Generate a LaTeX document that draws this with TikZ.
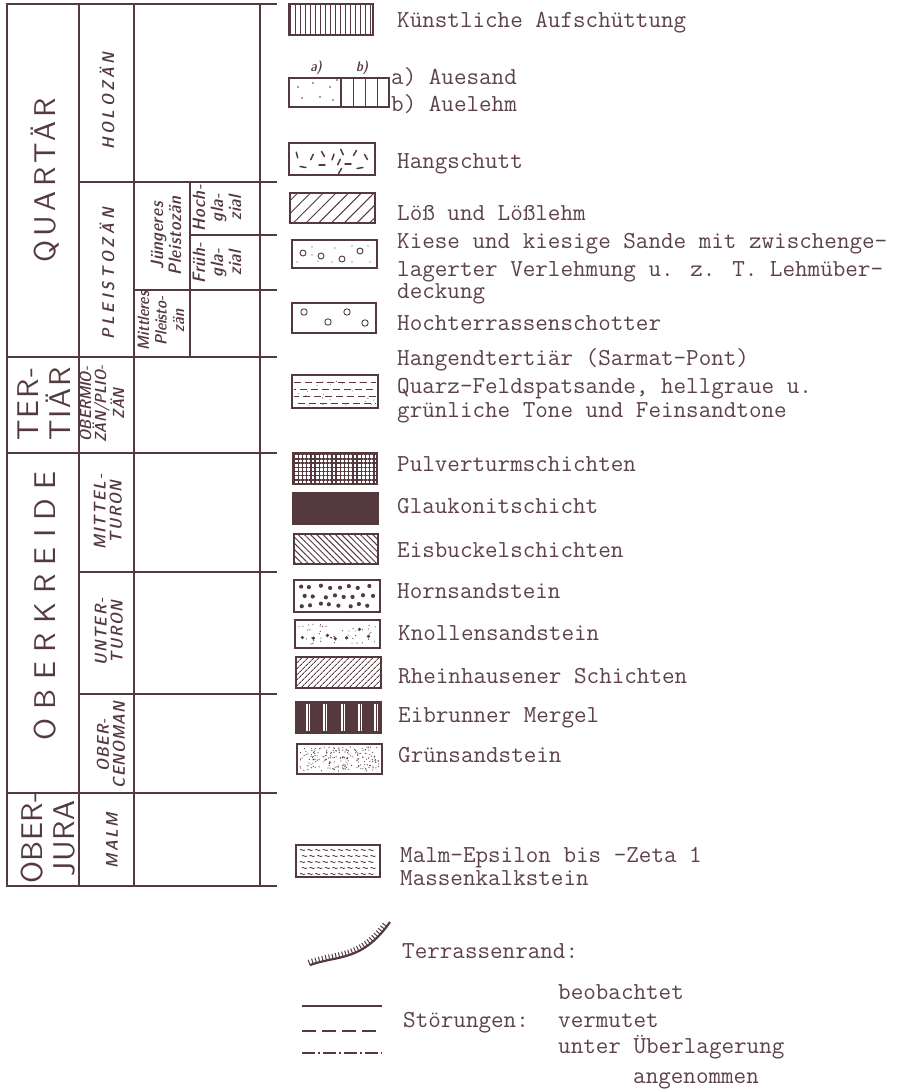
\documentclass[tikz,border=0pt]{standalone}
\usepackage{fontspec}
\newfontfamily\stencil{lmsans10-regular.otf}[
  ItalicFont=lmsans10-oblique.otf,
  BoldFont=lmsansdemicond10-regular.otf,
  BoldItalicFont=lmsansdemicond10-oblique.otf]
\usetikzlibrary{patterns.meta,decorations.pathreplacing,positioning}
\definecolor{ink}{RGB}{84,58,62}
\definecolor{inktxt}{RGB}{92,66,70}
\newcommand\sperr[1]{\addfontfeatures{LetterSpace=#1}}
\tikzset{
  gitter/.style={draw=ink,line width=1.5pt,line cap=rect},
  kasten/.style={draw=ink,line width=1.6pt},
  legtxt/.style={anchor=base west,inner sep=0pt,text=inktxt,
    font=\fontsize{24.4}{28}\ttfamily},
  system/.style={rotate=90,inner sep=0pt,text=ink,align=center,
    font=\fontsize{30}{32}\stencil\sperr{#1}},
  system/.default=8,
  serie/.style={rotate=90,inner sep=0pt,text=ink,align=center,
    font=\fontsize{17}{16}\stencil\bfseries\itshape\sperr{#1}},
  serie/.default=10,
  stufe/.style={rotate=90,inner sep=0pt,text=ink,align=center,
    font=\fontsize{18}{18}\stencil\bfseries\itshape\sperr{#1}},
  stufe/.default=4
}

\begin{document}
\begin{tikzpicture}[x=1pt,y=-1pt]
\useasboundingbox (0,0) rectangle (902,1089);
% Zeittabelle
\draw[gitter] (7,4) -- (7,886) (79,4) -- (79,886) (134,4) -- (134,886)
  (260,4) -- (260,886) (190,182) -- (190,357);
\foreach \y in {4,357,453,793,886} \draw[gitter] (7,\y) -- (276,\y);
\foreach \y in {182,572,694} \draw[gitter] (79,\y) -- (276,\y);
\draw[gitter] (134,290) -- (276,290) (190,235) -- (276,235);

\node[system=14] (quartaer) at (45,180) {QUARTÄR};
\node[system=6] (tertiaer) at (44,404) {TER-\\TIÄR};
\node[system=31] (oberkreide) at (45,606) {OBERKREIDE};
\node[system=2] (oberjura) at (48,838) {OBER-\\JURA};

\node[serie=20] (holozaen) at (107,101) {HOLOZÄN};
\node[serie=22] (pleistozaen) at (107,274) {PLEISTOZÄN};
\node[stufe=2,font=\fontsize{16}{13.5}\stencil\bfseries\itshape] (obermio) at (102,404) {OBERMIO-\\ZÄN/PLIO-\\ZÄN};
\node[serie] (mittelturon) at (108,512) {MITTEL-\\TURON};
\node[serie] (unterturon) at (109,632) {UNTER-\\TURON};
\node[serie=6] (obercenoman) at (111,745) {OBER-\\CENOMAN};
\node[serie=14] (malm) at (112,841) {MALM};
\node[stufe] (juengeres) at (166,236) {Jüngeres\\Pleistozän};
\node[stufe] (hochglazial) at (217,208) {Hoch-\\gla-\\zial};
\node[stufe] (fruehglazial) at (217,263) {Früh-\\gla-\\zial};
\node[stufe=1,font=\fontsize{16.5}{17.5}\stencil\bfseries\itshape] (mittleres) at (161,321) {Mittleres\\Pleisto-\\zän};

% Legende
\pgfmathsetseed{7}
\draw[kasten,pattern={Lines[angle=90,distance=5pt,line width=1pt]},pattern color=ink] (289,4) rectangle (373,35);
\node[legtxt] (kuenst) at (397,28) {Künstliche Aufschüttung};

\draw[kasten] (289,78) rectangle (389,107) (341,78) -- (341,107);
\foreach \x in {353,365,377} \draw[ink,line width=1pt] (\x,78) -- (\x,107);
\foreach \x/\y in {298/87,313/83,330/87,337/80,302/98,320/97,333/100}
  \fill[ink] (\x,\y) circle (0.9pt);
\node[text=ink,font=\fontsize{14}{14}\stencil\bfseries\itshape] (a) at (316,68) {a)};
\node[text=ink,font=\fontsize{14}{14}\stencil\bfseries\itshape] (b) at (362,68) {b)};
\node[legtxt] (auesand) at (391,85) {a) Auesand};
\node[legtxt] (auelehm) at (391,112) {b) Auelehm};

\draw[kasten] (289,143) rectangle (375,175);
\foreach \x/\y/\a in {297/155/75,312/157/115,323/154/60,333/157/110,342/152/65,355/153/120,
  366/157/60,303/167/10,322/165/0,339/162/115,348/164/0,360/168/-10,340/171/120}
  \draw[ink,line width=1.5pt,line cap=round] (\x,\y) ++(\a:-3) -- ++(\a:6);
\node[legtxt] (hangschutt) at (397,168) {Hangschutt};

\draw[kasten,pattern={Lines[angle=45,distance=9pt,line width=1pt]},pattern color=ink] (290,193) rectangle (375,223);
\node[legtxt] (loess) at (397,220) {Löß und Lößlehm};

\draw[kasten] (292,240) rectangle (377,268);
\foreach \x/\y in {303/253,321/256,342/259,360/251}
  \draw[ink,line width=0.9pt] (\x,\y) circle (3pt);
\foreach \x/\y in {312/247,318/261,335/248,332/262,352/246,352/262,297/262,370/262,368/246,312/255}
  \fill[ink] (\x,\y) circle (0.7pt);
\node[legtxt] (kiese1) at (397,248) {Kiese und kiesige Sande mit zwischenge-};
\node[legtxt] (kiese2) at (397,276) {lagerter Verlehmung u. z. T. Lehmüber-};
\node[legtxt] (kiese3) at (397,298) {deckung};

\draw[kasten] (292,303) rectangle (376,333);
\foreach \x/\y in {304/312,328/322,347/312,365/323}
  \draw[ink,line width=0.9pt] (\x,\y) circle (3.2pt);
\node[legtxt] (hochterr) at (397,330) {Hochterrassenschotter};

\draw[kasten] (292,375) rectangle (378,408);
\foreach \y/\p in {382/0,389/5,396/2,403/7}
  \draw[ink,line width=0.9pt,dash pattern=on 7pt off 4pt,dash phase=\p pt] (294,\y) -- (376,\y);
\foreach \i in {1,...,25} \fill[ink] ({295+80*rnd},{378+28*rnd}) circle (0.5pt);
\node[legtxt] (hangend1) at (397,365) {Hangendtertiär (Sarmat-Pont)};
\node[legtxt] (hangend2) at (397,393) {Quarz-Feldspatsande, hellgraue u.};
\node[legtxt] (hangend3) at (397,417) {grünliche Tone und Feinsandtone};

\draw[kasten,pattern={Hatch[angle=0,distance=4.2pt,line width=1.4pt]},pattern color=ink] (293,453) rectangle (377,484);
\node[legtxt] (pulver) at (397,471) {Pulverturmschichten};

\draw[kasten,fill=ink] (293,493) rectangle (378,524);
\node[legtxt] (glauk) at (397,513) {Glaukonitschicht};

\draw[kasten,pattern={Lines[angle=-45,distance=4.4pt,line width=1pt]},pattern color=ink] (294,534) rectangle (378,564);
\node[legtxt] (eisbuckel) at (397,557) {Eisbuckelschichten};

\draw[kasten] (294,580) rectangle (380,612);
\foreach \r in {0,1,2} \foreach \c in {0,...,7}
  \fill[ink] ({301+9.6*\c+4*mod(\r,2)+2*rand},{587+9*\r+1.5*rand}) circle (2.1pt);
\node[legtxt] (horn) at (397,598) {Hornsandstein};

\draw[kasten] (295,620) rectangle (380,648);
\foreach \i in {1,...,45} \fill[ink] ({299+78*rnd},{624+20*rnd}) circle (0.6pt);
\foreach \c in {0,...,6} \fill[ink] ({304+11*\c+2*rand},{634+5*rand}) circle (1.8pt);
\node[legtxt] (knollen) at (398,640) {Knollensandstein};

\draw[kasten,pattern={Lines[angle=45,distance=4pt,line width=1pt]},pattern color=ink] (296,657) rectangle (381,688);
\node[legtxt] (rhein) at (398,683) {Rheinhausener Schichten};

\draw[kasten,fill=ink] (296,702) rectangle (381,733);
\foreach \x in {308,325,343,360,376} {
  \draw[white,line width=4.4pt] (\x,704) -- (\x,731);
  \draw[ink,line width=1pt] (\x,704) -- (\x,731);}
\node[legtxt] (eibrunner) at (398,722) {Eibrunner Mergel};

\draw[kasten] (297,744) rectangle (382,774);
\foreach \i in {1,...,200} \fill[ink] ({300+79*rnd},{747+24*rnd}) circle (0.6pt);
\node[legtxt] (gruen) at (398,762) {Grünsandstein};

\draw[kasten] (296,845) rectangle (380,877);
\foreach \r in {0,...,4} \foreach \c in {0,...,9}
  \draw[ink,line width=0.8pt] ({300+7.6*\c+2*mod(\r,2)},{850+6*\r})
    .. controls ({301.5+7.6*\c+2*mod(\r,2)},{848+6*\r}) and ({303+7.6*\c+2*mod(\r,2)},{852+6*\r}) .. ({305+7.6*\c+2*mod(\r,2)},{850+6*\r});
\node[legtxt] (malm1) at (400,862) {Malm-Epsilon bis -Zeta 1};
\node[legtxt] (malm2) at (400,885) {Massenkalkstein};

% Terrassenrand
\draw[ink,line width=2.2pt,postaction={decorate,draw,line width=1pt,
  decoration={border,segment length=3.4pt,amplitude=5.5pt,angle=90}}]
  (310,965) .. controls (338,955) and (362,962) .. (390,922);
\node[legtxt] (terrasse) at (402,958) {Terrassenrand:};

% Stoerungen
\draw[ink,line width=1.6pt] (302,1006) -- (382,1006);
\draw[ink,line width=1.6pt,dash pattern=on 14pt off 6pt] (302,1031) -- (382,1031);
\draw[ink,line width=1.6pt,dash pattern=on 13pt off 3pt on 2pt off 3pt] (302,1053) -- (382,1053);
\node[legtxt] (stoer) at (403,1027) {Störungen:};
\node[legtxt] (beob) at (558,999) {beobachtet};
\node[legtxt] (verm) at (558,1027) {vermutet};
\node[legtxt] (unter) at (558,1053) {unter Überlagerung};
\node[legtxt] (angen) at (633,1083) {angenommen};
\end{tikzpicture}
\end{document}
